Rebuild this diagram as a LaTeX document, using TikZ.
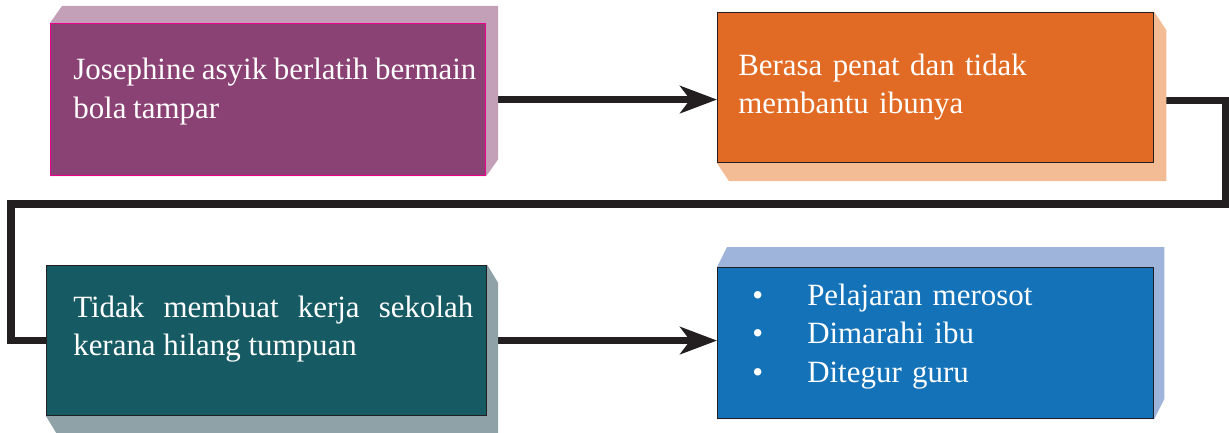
\documentclass[tikz,border=0pt]{standalone}
\usepackage{fontspec}
\setmainfont{Liberation Serif}
\usetikzlibrary{arrows.meta,backgrounds}

\definecolor{ungu}{HTML}{8A4173}
\definecolor{ungumuda}{HTML}{C4A0B8}
\definecolor{jambu}{HTML}{EC008C}
\definecolor{oren}{HTML}{E16B24}
\definecolor{orenmuda}{HTML}{F4BC94}
\definecolor{hijau}{HTML}{165B63}
\definecolor{hijaumuda}{HTML}{8FA2A8}
\definecolor{biru}{HTML}{1472B8}
\definecolor{birumuda}{HTML}{9FB4DB}
\definecolor{hitam}{HTML}{231F20}

\begin{document}
\begin{tikzpicture}[x=0.025cm, y=-0.025cm,
  kotak/.style={rectangle, inner sep=0pt, line width=0.8pt, draw=hitam, anchor=north west},
  teks/.style={text=white, anchor=base west, inner sep=0pt, text width=10.3cm, align=left,
    font=\fontsize{22pt}{27.5pt}\selectfont},
  garis/.style={draw=hitam, line width=0.19cm},
  panah/.style={garis, -{Stealth[length=0.92cm, width=0.68cm, inset=0.25cm]}}]

\useasboundingbox (0,0) rectangle (1229,433);

% Kotak
\node[kotak, fill=ungu, draw=jambu, minimum width=10.875cm, minimum height=3.8cm]
(b1) at (50,23) {};
\node[kotak, fill=oren, minimum width=10.9cm, minimum height=3.75cm]
(b2) at (717,12) {};
\node[kotak, fill=hijau, minimum width=11cm, minimum height=3.75cm]
(b3) at (46,265) {};
\node[kotak, fill=biru, minimum width=10.9cm, minimum height=3.775cm]
(b4) at (717,267) {};

% Teks
\node[teks, text width=11.5cm]
(t1) at (73,80)
{\spaceskip=0.215em Josephine asyik berlatih bermain\\ bola tampar};

\node[teks]
(t2) at (738,75)
{Berasa penat dan tidak\\ membantu ibunya};

\node[teks, text width=10cm, align=justify]
(t3) at (73,317)
{Tidak membuat kerja sekolah kerana hilang tumpuan};

\node[teks]
(t4) at (752,305)
{\makebox[1.375cm][l]{\textbullet}Pelajaran merosot\\
 \makebox[1.375cm][l]{\textbullet}Dimarahi ibu\\
 \makebox[1.375cm][l]{\textbullet}Ditegur guru};

\begin{scope}[on background layer]
% Penyambung
\draw[panah] (b1.east) -- (b1.east -| b2.west);

\coordinate (sudutKanan) at (1226,204);
\coordinate (sudutKiri) at (11,204);
\draw[garis] ([yshift=-0.325cm]b2.east) -| (sudutKanan) -- (sudutKiri) |- (b3.west);

\draw[panah] (b3.east) -- (b3.east -| b4.west);

% Sisi timbul
\fill[ungumuda] (b1.south west) -- (b1.north west) -- ([shift={(12,-17)}]b1.north west)
  -- ([shift={(12,-17)}]b1.north east) -- ([shift={(12,-17)}]b1.south east)
  -- (b1.south east) -- cycle;
\fill[orenmuda] (b2.north west) -- (b2.north east) -- ([shift={(12,18)}]b2.north east)
  -- ([shift={(12,18)}]b2.south east) -- ([shift={(12,18)}]b2.south west)
  -- (b2.south west) -- cycle;
\fill[hijaumuda] (b3.north west) -- (b3.north east) -- ([shift={(11,18)}]b3.north east)
  -- ([shift={(11,18)}]b3.south east) -- ([shift={(11,18)}]b3.south west)
  -- (b3.south west) -- cycle;
\fill[birumuda] (b4.south west) -- (b4.north west) -- ([shift={(10,-20)}]b4.north west)
  -- ([shift={(10,-20)}]b4.north east) -- ([shift={(10,-20)}]b4.south east)
  -- (b4.south east) -- cycle;
\end{scope}

\end{tikzpicture}
\end{document}
